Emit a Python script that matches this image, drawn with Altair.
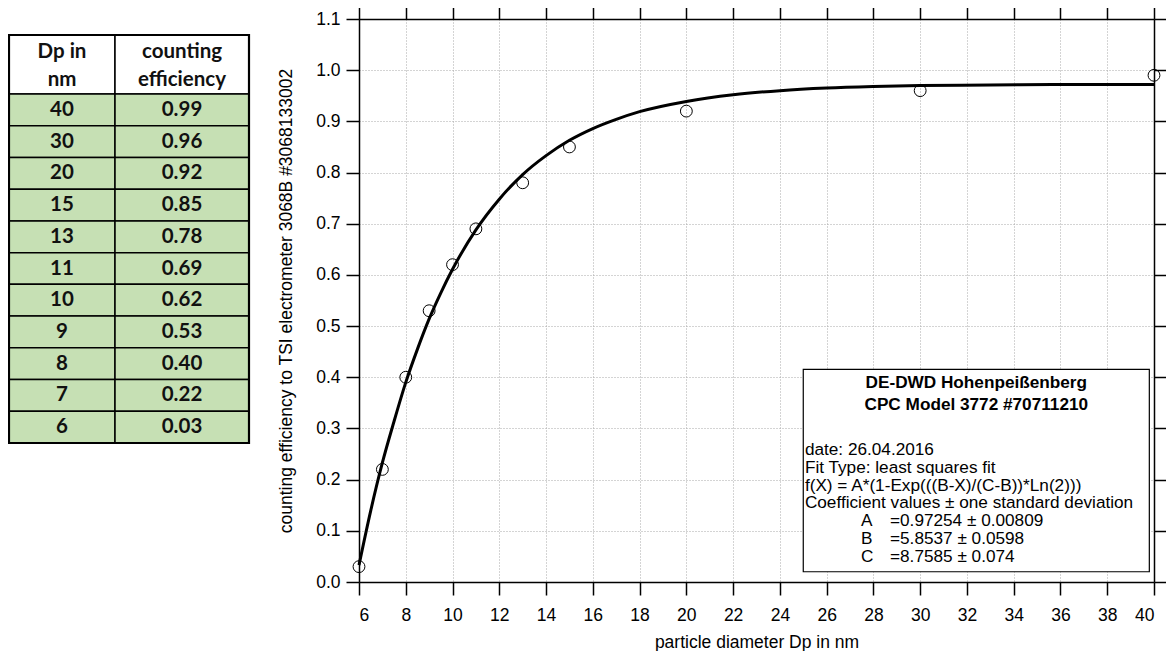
import altair as alt
import pandas as pd

# ---------------- data ----------------
dp_nm = [40, 30, 20, 15, 13, 11, 10, 9, 8, 7, 6]
efficiency = [0.99, 0.96, 0.92, 0.85, 0.78, 0.69, 0.62, 0.53, 0.40, 0.22, 0.03]
efficiency_text = ["0.99", "0.96", "0.92", "0.85", "0.78", "0.69", "0.62", "0.53", "0.40", "0.22", "0.03"]

# fitted curve
fit_x = [6, 6.5, 7, 7.5, 8, 8.5, 9, 9.5, 10, 11, 12, 13, 14, 15, 16, 17, 18, 20, 22, 24, 26, 28, 30, 33, 36, 40]
fit_y = [0.033, 0.139, 0.233, 0.314, 0.390, 0.455, 0.514, 0.565, 0.611, 0.688, 0.748, 0.796, 0.833,
         0.863, 0.886, 0.904, 0.919, 0.939, 0.952, 0.960, 0.965, 0.968, 0.970, 0.971, 0.972, 0.972]

x_ticks = [6, 8, 10, 12, 14, 16, 18, 20, 22, 24, 26, 28, 30, 32, 34, 36, 38, 40]
y_ticks = [0.0, 0.1, 0.2, 0.3, 0.4, 0.5, 0.6, 0.7, 0.8, 0.9, 1.0, 1.1]

header_lines = [["Dp in", "nm"], ["counting", "efficiency"]]

box_title = ["DE-DWD Hohenpeißenberg", "CPC Model 3772 #70711210"]
box_lines = ["date: 26.04.2016", "Fit Type: least squares fit",
             "f(X) = A*(1-Exp(((B-X)/(C-B))*Ln(2)))",
             "Coefficient values ± one standard deviation"]
coef_names = ["A", "B", "C"]
coef_values = ["=0.97254 ± 0.00809", "=5.8537 ± 0.0598", "=8.7585 ± 0.074"]

# ---------------- layout / style ----------------
FONT = "Liberation Sans"
FS = 17.5
BOX_FS = 17.2
X_DOM = [6, 40]
Y_DOM = [0, 1.1]
PW, PH = 795, 563

# annotation box placement in data units
BOX_X0, BOX_X1, BOX_Y0, BOX_Y1 = 25.0, 39.8, 0.020, 0.4156
BOX_CX = (BOX_X0 + BOX_X1) / 2
TEXT_X = 25.07
COEF_NAME_X = 27.47
COEF_VAL_X = 28.71
TITLE_Y = [0.389, 0.346]
LINE_Y = [0.258, 0.223, 0.188, 0.154]
COEF_Y = [0.119, 0.084, 0.049]

def xs():
    return alt.Scale(domain=X_DOM, nice=False, zero=False)

def ys():
    return alt.Scale(domain=Y_DOM, nice=False, zero=False)

pts = pd.DataFrame({"x": dp_nm, "y": efficiency})
fit = pd.DataFrame({"x": fit_x, "y": fit_y})

grid_kw = dict(grid=True, gridDash=[1, 2], gridColor="#a8a8a8", gridWidth=1)

points = alt.Chart(pts).mark_point(
    shape="circle", filled=False, size=140, stroke="black", strokeWidth=1, opacity=1
).encode(
    x=alt.X("x:Q", scale=xs(), axis=alt.Axis(
        orient="bottom", values=x_ticks, format="d", title="particle diameter Dp in nm",
        tickSize=13, labelPadding=11, titlePadding=10, **grid_kw)),
    y=alt.Y("y:Q", scale=ys(), axis=alt.Axis(
        orient="left", values=y_ticks, format=".1f",
        title="counting efficiency to TSI electrometer 3068B #3068133002",
        tickSize=13, labelPadding=6, titlePadding=20, **grid_kw)),
)

curve = alt.Chart(fit).mark_line(color="black", strokeWidth=3, interpolate="monotone").encode(
    x=alt.X("x:Q", scale=xs(), axis=alt.Axis(
        orient="top", values=x_ticks, labels=False, title=None, grid=False, tickSize=12)),
    y=alt.Y("y:Q", scale=ys(), axis=alt.Axis(
        orient="right", values=y_ticks, labels=False, title=None, grid=False, tickSize=12)),
)

box_df = pd.DataFrame({"x0": [BOX_X0], "x1": [BOX_X1], "y0": [BOX_Y0], "y1": [BOX_Y1]})
box = alt.Chart(box_df).mark_rect(fill="white", stroke="black", strokeWidth=1.2).encode(
    x=alt.X("x0:Q", scale=xs(), axis=None), x2="x1:Q",
    y=alt.Y("y0:Q", scale=ys(), axis=None), y2="y1:Q",
)

def text_layer(df, align, weight="normal"):
    return alt.Chart(df).mark_text(
        font=FONT, fontSize=BOX_FS, fontWeight=weight, align=align, baseline="middle", color="black"
    ).encode(
        x=alt.X("x:Q", scale=xs(), axis=None),
        y=alt.Y("y:Q", scale=ys(), axis=None),
        text="t:N",
    )

t_title = text_layer(pd.DataFrame({"x": [BOX_CX] * 2, "y": TITLE_Y, "t": box_title}), "center", "bold")
t_lines = text_layer(pd.DataFrame({"x": [TEXT_X] * 4, "y": LINE_Y, "t": box_lines}), "left")
t_names = text_layer(pd.DataFrame({"x": [COEF_NAME_X] * 3, "y": COEF_Y, "t": coef_names}), "left")
t_vals = text_layer(pd.DataFrame({"x": [COEF_VAL_X] * 3, "y": COEF_Y, "t": coef_values}), "left")

plot = alt.layer(points, curve, box, t_title, t_lines, t_names, t_vals).resolve_scale(
    x="independent", y="independent"
).properties(width=PW, height=PH)

# ---------------- table ----------------
TW, TH = 240, 424
COL_EDGES = [0, 106, 240]
HEADER_H = 1.86
HEADER_LINE_Y = [0.527, 1.418]
T_YDOM = [-0.504, 12.86]

cells = []
texts = []
for c in range(2):
    cells.append({"x0": COL_EDGES[c], "x1": COL_EDGES[c + 1], "y0": 0, "y1": HEADER_H, "kind": "head"})
    for k, line in enumerate(header_lines[c]):
        texts.append({"x": (COL_EDGES[c] + COL_EDGES[c + 1]) / 2, "y": HEADER_LINE_Y[k], "t": line})
for i, (d, e) in enumerate(zip(dp_nm, efficiency_text)):
    y0 = HEADER_H + i
    for c, val in enumerate([str(d), e]):
        cells.append({"x0": COL_EDGES[c], "x1": COL_EDGES[c + 1], "y0": y0, "y1": y0 + 1, "kind": "data"})
        texts.append({"x": (COL_EDGES[c] + COL_EDGES[c + 1]) / 2, "y": y0 + 0.5, "t": val})

tx = alt.Scale(domain=[0, TW], nice=False, zero=False)
ty = alt.Scale(domain=T_YDOM, nice=False, zero=False, reverse=True)

tcells = alt.Chart(pd.DataFrame(cells)).mark_rect(stroke="black", strokeWidth=1.5).encode(
    x=alt.X("x0:Q", scale=tx, axis=None), x2="x1:Q",
    y=alt.Y("y0:Q", scale=ty, axis=None), y2="y1:Q",
    fill=alt.Fill("kind:N", scale=alt.Scale(domain=["head", "data"], range=["#ffffff", "#c6e0b4"]), legend=None),
)
outer = alt.Chart(pd.DataFrame([{"x0": 0, "x1": TW, "y0": 0, "y1": HEADER_H + len(dp_nm)}])).mark_rect(
    fill=None, stroke="black", strokeWidth=2.2, filled=False
).encode(
    x=alt.X("x0:Q", scale=tx, axis=None), x2="x1:Q",
    y=alt.Y("y0:Q", scale=ty, axis=None), y2="y1:Q",
)
ttext = alt.Chart(pd.DataFrame(texts)).mark_text(
    font="Lato", fontWeight="bold", fontSize=20.5,
    align="center", baseline="middle", color="#111111"
).encode(
    x=alt.X("x:Q", scale=tx, axis=None),
    y=alt.Y("y:Q", scale=ty, axis=None),
    text="t:N",
)
table = alt.layer(tcells, outer, ttext).properties(width=TW, height=TH)

chart = alt.hconcat(table, plot, spacing=26).properties(
    padding={"left": -1, "top": -2, "right": -1, "bottom": 0}
).configure_view(stroke=None).configure_axis(
    labelFont=FONT, titleFont=FONT, labelFontSize=FS, titleFontSize=FS,
    labelColor="black", titleColor="black", titleFontWeight="normal",
    domainColor="black", tickColor="black", domainWidth=1.5, tickWidth=1.5,
)

chart.save("out.html", embed_options={"renderer": "svg", "actions": False})
